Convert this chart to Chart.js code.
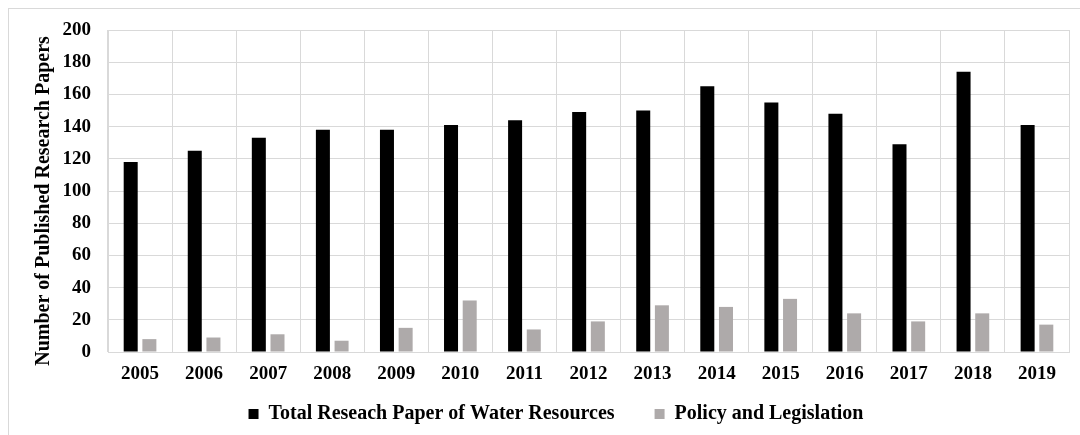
<!DOCTYPE html>
<html><head><meta charset="utf-8">
<script src="https://cdn.jsdelivr.net/npm/chart.js@4.4.1/dist/chart.umd.min.js"></script>
<style>
html,body{margin:0;padding:0;background:#fff;}
#wrap{position:relative;width:1080px;height:435px;overflow:hidden;background:#fff;}
#frame{position:absolute;left:8px;top:8px;width:1200px;height:600px;border-left:1px solid #d9d9d9;border-top:1px solid #d9d9d9;}
canvas{position:absolute;left:0;top:0;}
</style></head><body>
<div id="wrap"><div id="frame"></div><canvas id="c" width="1080" height="435"></canvas></div>
<script>
const years = ['2005','2006','2007','2008','2009','2010','2011','2012','2013','2014','2015','2016','2017','2018','2019'];
const totalPapers = [118,125,133,138,138,141,144,149,150,165,155,148,129,174,141];
const policyPapers = [8,9,11,7,15,32,14,19,29,28,33,24,19,24,17];
const seriesNames = ['Total Reseach Paper of Water Resources','Policy and Legislation'];
const yAxisTitle = 'Number of Published Research Papers';
const yMin = 0, yMax = 200, yStep = 20;

const FONT = "'Liberation Serif', 'Times New Roman', serif";
const GRID = '#d9d9d9';

new Chart(document.getElementById('c'), {
  type: 'bar',
  data: {
    labels: years,
    datasets: [
      {label: seriesNames[0], data: totalPapers, backgroundColor: '#000000', borderWidth: 0,
       categoryPercentage: 0.583, barPercentage: 0.75},
      {label: seriesNames[1], data: policyPapers, backgroundColor: '#aeaaaa', borderWidth: 0,
       categoryPercentage: 0.583, barPercentage: 0.75}
    ]
  },
  options: {
    responsive: false,
    animation: false,
    devicePixelRatio: 1,
    layout: {padding: {left: 43, right: 11, top: 30, bottom: 1}},
    plugins: {
      tooltip: {enabled: false},
      legend: {
        position: 'bottom',
        labels: {
          color: '#000',
          font: {family: FONT, size: 20, weight: 'bold'},
          boxWidth: 10, boxHeight: 10, padding: 10,
          generateLabels: (chart) => {
            const items = Chart.defaults.plugins.legend.labels.generateLabels(chart);
            items.forEach((it, i) => { if (i === 0) it.text = it.text + '      '; it.lineWidth = 0; });
            return items;
          }
        }
      }
    },
    scales: {
      x: {
        grid: {color: GRID, lineWidth: 1, drawTicks: false, offset: true},
        border: {color: GRID, width: 1},
        ticks: {color: '#000', font: {family: FONT, size: 19, weight: 'bold'}, padding: 11, maxRotation: 0, autoSkip: false},
        afterFit: (s) => { s.height = 42; }
      },
      y: {
        min: yMin, max: yMax,
        grid: {color: GRID, lineWidth: 1, drawTicks: false},
        border: {color: GRID, width: 1},
        ticks: {stepSize: yStep, color: '#000', font: {family: FONT, size: 19, weight: 'bold'}, padding: 17},
        title: {display: true, text: yAxisTitle + '    ', color: '#000',
                font: {family: FONT, size: 20, weight: 'bold'}, padding: {top: -11, bottom: 0}},
        afterFit: (s) => { s.width = 65; }
      }
    }
  }
});
</script>
</body></html>
